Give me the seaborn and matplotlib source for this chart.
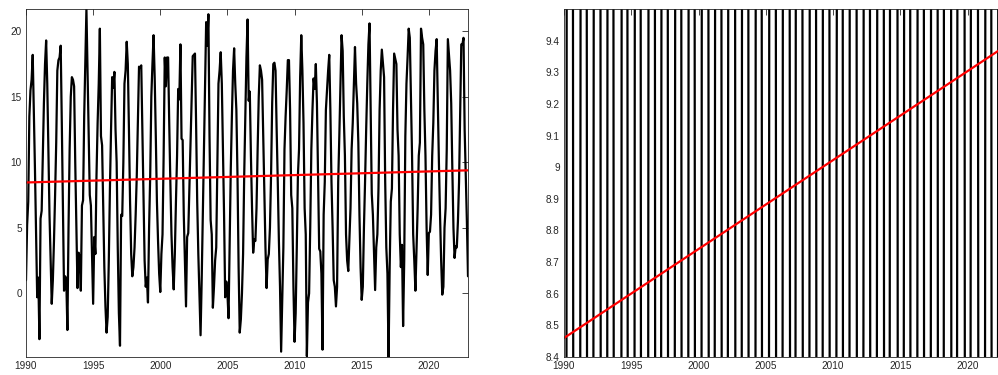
import numpy as np
import pandas as pd
import matplotlib
matplotlib.use("Agg")
import matplotlib.pyplot as plt
from matplotlib.ticker import FuncFormatter
import seaborn as sns

# Monatsmittel (Jan..Dez)
temp_1990 = [1.0, 5.2, 7.0, 13.5, 15.5, 16.3, 18.2, 14.0, 9.5, 4.5, -0.3, 1.2]
temp_1991 = [-3.5, 5.7, 6.3, 10.5, 14.5, 17.5, 19.3, 16.0, 11.0, 6.0, 2.5, -0.8]
temp_1992 = [1.0, 4.0, 7.5, 11.5, 17.0, 17.8, 18.0, 18.9, 13.0, 6.5, 0.2, 1.3]
temp_1993 = [1.0, -2.8, 5.0, 11.0, 15.0, 16.5, 16.3, 15.8, 10.0, 5.0, 0.4, 3.1]
temp_1994 = [2.8, 0.2, 6.7, 7.1, 13.5, 17.5, 21.7, 17.0, 12.0, 7.5, 6.7, 2.9]
temp_1995 = [-0.8, 4.3, 3.0, 9.0, 13.0, 16.0, 20.2, 12.0, 11.3, 6.5, 2.0, -1.0]
temp_1996 = [-3.0, -1.8, 2.5, 8.0, 12.5, 16.5, 15.7, 16.9, 12.5, 10.0, 3.5, -1.5]
temp_1997 = [-4.0, 6.0, 5.9, 10.0, 16.0, 17.0, 19.2, 17.5, 12.5, 7.0, 3.0, 1.3]
temp_1998 = [2.0, 3.5, 6.0, 9.0, 13.0, 17.3, 17.2, 17.4, 12.5, 7.5, 2.5, 0.5]
temp_1999 = [1.2, -0.7, 5.0, 9.0, 15.0, 17.5, 19.7, 16.5, 12.0, 7.0, 4.0, 1.5]
temp_2000 = [0.1, 3.0, 4.5, 10.5, 18.0, 15.8, 18.0, 18.0, 13.0, 8.5, 4.5, 2.0]
temp_2001 = [0.3, 3.0, 7.0, 10.5, 15.6, 14.8, 19.0, 11.8, 11.7, 6.0, 2.5, -1.0]
temp_2002 = [4.3, 4.6, 8.0, 11.5, 15.0, 18.1, 18.2, 18.3, 13.0, 7.0, 3.0, 0.0]
temp_2003 = [-3.2, 1.0, 6.0, 11.0, 16.0, 20.7, 18.9, 21.3, 12.0, 5.6, 4.5, -1.1]
temp_2004 = [0.5, 2.5, 3.5, 10.0, 16.0, 17.0, 18.4, 16.0, 11.0, 6.0, -0.3, 0.9]
temp_2005 = [0.0, -1.9, 4.0, 9.5, 13.5, 17.0, 18.7, 16.0, 14.0, 9.0, 2.0, -3.0]
temp_2006 = [-2.0, 0.0, 3.0, 9.0, 13.5, 18.0, 20.9, 14.7, 15.4, 10.5, 6.5, 3.1]
temp_2007 = [4.1, 4.0, 6.5, 11.0, 15.0, 17.4, 17.0, 16.3, 12.0, 8.0, 3.5, 0.4]
temp_2008 = [2.6, 3.0, 5.0, 9.0, 14.5, 17.5, 17.6, 17.0, 12.5, 8.5, 4.0, 0.5]
temp_2009 = [-4.45, -0.5, 3.5, 11.0, 13.5, 15.5, 17.8, 17.8, 14.0, 7.5, 6.5, 0.5]
temp_2010 = [-3.7, -1.5, 3.5, 9.0, 11.0, 16.5, 19.7, 17.0, 13.0, 6.5, 4.5, -4.8]
temp_2011 = [-0.7, 0.0, 5.0, 11.0, 14.0, 16.4, 15.6, 17.5, 14.5, 9.0, 3.4, 3.2]
temp_2012 = [1.5, -4.3, 6.0, 8.5, 14.0, 15.5, 17.0, 18.2, 14.0, 8.5, 5.0, 1.0]
temp_2013 = [0.5, -1.0, 0.5, 8.5, 12.0, 16.0, 19.7, 18.5, 13.5, 10.5, 4.5, 2.5]
temp_2014 = [1.7, 4.0, 6.5, 11.0, 13.0, 16.0, 18.8, 16.0, 14.5, 11.5, 6.0, 2.0]
temp_2015 = [-0.5, 0.5, 5.0, 8.5, 12.5, 16.0, 19.0, 20.6, 14.0, 7.6, 6.0, 3.0]
temp_2016 = [0.25, 3.5, 4.5, 8.0, 14.0, 17.0, 18.6, 17.5, 16.5, 8.5, 3.5, 1.5]
temp_2017 = [-4.86, 2.0, 7.0, 8.0, 14.0, 18.3, 17.9, 17.5, 12.5, 10.5, 4.5, 2.0]
temp_2018 = [3.7, -2.5, 2.5, 12.0, 16.0, 18.0, 20.2, 19.5, 15.0, 10.5, 4.5, 2.5]
temp_2019 = [0.2, 3.5, 6.5, 10.5, 11.5, 20.2, 19.5, 19.0, 14.0, 10.5, 5.0, 1.4]
temp_2020 = [4.6, 4.7, 6.0, 10.5, 13.0, 17.0, 18.5, 19.4, 14.5, 10.0, 6.0, 2.5]
temp_2021 = [-0.1, 0.5, 5.0, 6.5, 11.0, 19.4, 18.2, 17.0, 14.5, 9.5, 5.0, 2.7]
temp_2022 = [3.6, 3.5, 5.5, 8.5, 14.0, 19.0, 19.0, 19.5, 12.5, 9.0, 5.5, 1.3]

jahre = list(range(1990, 2023))
reihen = [temp_1990, temp_1991, temp_1992, temp_1993, temp_1994, temp_1995,
          temp_1996, temp_1997, temp_1998, temp_1999, temp_2000, temp_2001,
          temp_2002, temp_2003, temp_2004, temp_2005, temp_2006, temp_2007,
          temp_2008, temp_2009, temp_2010, temp_2011, temp_2012, temp_2013,
          temp_2014, temp_2015, temp_2016, temp_2017, temp_2018, temp_2019,
          temp_2020, temp_2021, temp_2022]

# Lineare Trendlinie (Anfangs- und Endwert)
trend_jahre = [1990, 2022 + 11 / 12]
trend_werte = [8.46, 9.386]

xticks = [1990, 1995, 2000, 2005, 2010, 2015, 2020]
yticks_links = [0, 5, 10, 15, 20]
yticks_rechts = [8.4, 8.5, 8.6, 8.7, 8.8, 8.9, 9.0, 9.1, 9.2, 9.3, 9.4]

# Zeitachse aufbauen
zeilen = []
for jahr, werte in zip(jahre, reihen):
    for monat, wert in enumerate(werte):
        zeilen.append({"zeit": jahr + monat / 12, "temp": wert})
df = pd.DataFrame(zeilen)
df_trend = pd.DataFrame({"zeit": trend_jahre, "temp": trend_werte})

sns.set_style("white")
plt.rcParams["font.family"] = ["Liberation Sans", "DejaVu Sans"]

grau = "#262626"
fig = plt.figure(figsize=(9.98, 3.75), dpi=100)
ax1 = fig.add_axes([26 / 998, 18 / 375, 442 / 998, 348 / 375])
ax2 = fig.add_axes([564 / 998, 18 / 375, 443 / 998, 348 / 375])

for ax in (ax1, ax2):
    sns.lineplot(data=df, x="zeit", y="temp", color="black", lw=1.6,
                 estimator=None, ax=ax)
    sns.lineplot(data=df_trend, x="zeit", y="temp", color="red", lw=1.6,
                 estimator=None, ax=ax)
    ax.set_xlim(df["zeit"].min(), df["zeit"].max())
    ax.set_xticks(xticks)
    ax.set_xlabel("")
    ax.set_ylabel("")
    ax.tick_params(direction="in", top=True, right=True, length=4, width=0.6,
                   colors=grau, labelsize=7.2, pad=3)
    for sp in ax.spines.values():
        sp.set_color(grau)
        sp.set_linewidth(0.6)

ax1.set_ylim(df["temp"].min(), df["temp"].max())
ax1.set_yticks(yticks_links)

ax2.set_ylim(8.4, 9.5)
ax2.set_yticks(yticks_rechts)
ax2.yaxis.set_major_formatter(FuncFormatter(lambda v, p: f"{round(v, 2):g}"))

plt.savefig("out.png", dpi=100)
plt.close()
